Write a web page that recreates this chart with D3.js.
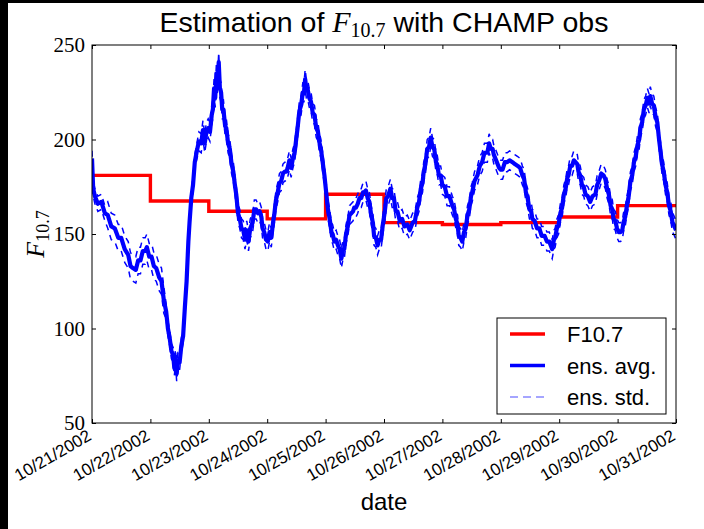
<!DOCTYPE html>
<html lang="en">
<head>
<meta charset="UTF-8">
<title>Estimation of F10.7 with CHAMP obs</title>
<style>
    body { margin: 0; background: #000; }
    svg { display: block; }
    .tick-label { font-family: "Liberation Serif", serif; font-size: 21px; fill: #000; }
    .date-label { font-family: "Liberation Sans", Arial, sans-serif; font-size: 17px; fill: #000; }
    .sans { font-family: "Liberation Sans", Arial, sans-serif; }
    .serif { font-family: "Liberation Serif", serif; }
</style>
</head>
<body>
<svg width="704" height="529"></svg>
<script src="https://d3js.org/d3.v7.min.js"></script>
<script>
// F10.7 daily values (one per day, starting 10/21/2002)
const f107Days = [0, 1, 2, 3, 4, 5, 6, 7, 8, 9, 10];
const f107Vals = [181, 167.5, 162, 158, 171, 156, 155, 156, 159, 165, 165];

// ensemble average, time in days since 10/21/2002 00:00
const avgDays = [
    0.00, 0.02, 0.05, 0.10, 0.16, 0.22, 0.27, 0.33, 0.39, 0.45, 0.50, 0.56, 0.62, 0.66, 0.70, 0.75, 0.79, 0.83, 0.87, 0.91, 0.94, 0.98,
    1.02, 1.06, 1.10, 1.15, 1.19, 1.23, 1.27, 1.30, 1.33, 1.36, 1.39, 1.41, 1.43, 1.45, 1.47, 1.50, 1.53, 1.56, 1.59, 1.62, 1.65, 1.67, 1.70, 1.73, 1.76, 1.79, 1.83, 1.87, 1.90, 1.93, 1.96, 1.99,
    2.02, 2.05, 2.07, 2.09, 2.11, 2.13, 2.15, 2.17, 2.19, 2.21, 2.23, 2.25, 2.28, 2.30, 2.33, 2.36, 2.39, 2.42, 2.45, 2.47, 2.50, 2.53, 2.56, 2.59, 2.62, 2.65, 2.68, 2.71, 2.75, 2.78, 2.81, 2.84, 2.87, 2.90, 2.92, 2.95, 2.98,
    3.01, 3.04, 3.07, 3.10, 3.12, 3.15, 3.18, 3.21, 3.24, 3.27, 3.30, 3.33, 3.35, 3.38, 3.41, 3.44, 3.47, 3.50, 3.52, 3.55, 3.58, 3.61, 3.63, 3.65, 3.67, 3.69, 3.72, 3.75, 3.78, 3.81, 3.84, 3.87, 3.89, 3.92, 3.95, 3.98,
    4.01, 4.04, 4.07, 4.10, 4.12, 4.15, 4.18, 4.21, 4.24, 4.27, 4.30, 4.32, 4.35, 4.38, 4.41, 4.44, 4.47, 4.49, 4.52, 4.55, 4.58, 4.61, 4.64, 4.66, 4.69, 4.72, 4.75, 4.78, 4.81, 4.83, 4.86, 4.89, 4.92, 4.95, 4.98,
    5.01, 5.04, 5.07, 5.11, 5.14, 5.17, 5.20, 5.23, 5.27, 5.31, 5.35, 5.40, 5.44, 5.49, 5.53, 5.57, 5.60, 5.63, 5.66, 5.68, 5.71, 5.74, 5.77, 5.80, 5.83, 5.86, 5.89, 5.91, 5.94, 5.97,
    6.00, 6.04, 6.08, 6.12, 6.17, 6.20, 6.23, 6.26, 6.28, 6.31, 6.34, 6.37, 6.40, 6.43, 6.46, 6.49, 6.51, 6.55, 6.60, 6.64, 6.68, 6.72, 6.77, 6.80, 6.83, 6.86, 6.88, 6.92, 6.97,
    7.00, 7.03, 7.07, 7.11, 7.15, 7.20, 7.24, 7.29, 7.33, 7.37, 7.40, 7.43, 7.46, 7.49, 7.52, 7.54, 7.58, 7.62, 7.66, 7.70, 7.75, 7.79, 7.83, 7.88, 7.91, 7.93, 7.96, 7.99,
    8.02, 8.05, 8.08, 8.11, 8.14, 8.16, 8.19, 8.22, 8.25, 8.28, 8.31, 8.33, 8.36, 8.39, 8.42, 8.45, 8.49, 8.53, 8.57, 8.62, 8.65, 8.68, 8.72, 8.76, 8.79, 8.82, 8.85, 8.88, 8.91, 8.93, 8.96, 8.99,
    9.02, 9.05, 9.08, 9.10, 9.13, 9.16, 9.19, 9.22, 9.25, 9.28, 9.31, 9.34, 9.37, 9.39, 9.42, 9.45, 9.48, 9.51, 9.54, 9.56, 9.59, 9.62, 9.65, 9.68, 9.71, 9.73, 9.76, 9.79, 9.82, 9.85, 9.88, 9.91, 9.94, 9.96, 10.00
];
const avgVals = [
    190, 174, 170, 166, 167, 161, 160, 154, 153, 148, 148, 142, 139, 133, 132, 131, 136, 136, 141, 141, 143, 138,
    138, 133, 132, 127, 125, 115, 109, 100, 95, 88, 86, 79, 85, 76, 83, 82, 91, 96, 111, 125, 146, 156, 169, 176, 188, 193, 199, 198, 205, 198, 204, 206,
    204, 213, 216, 227, 222, 235, 229, 241, 227, 225, 216, 216, 207, 206, 198, 195, 187, 183, 175, 171, 161, 158, 153, 152, 147, 152, 146, 153, 156, 163, 163, 161, 162, 159, 153, 151, 147,
    146, 151, 148, 156, 160, 168, 172, 177, 178, 182, 183, 183, 185, 189, 185, 190, 193, 201, 206, 215, 218, 225, 225, 232, 227, 227, 222, 220, 214, 213, 206, 204, 199, 195, 188, 181,
    172, 163, 158, 151, 150, 146, 147, 144, 142, 137, 142, 142, 150, 154, 160, 161, 162, 164, 164, 166, 169, 169, 172, 172, 173, 169, 167, 160, 156, 149, 148, 144, 147, 147, 155,
    161, 169, 170, 174, 169, 169, 162, 162, 157, 158, 154, 155, 152, 156, 157, 164, 167, 174, 177, 183, 187, 195, 196, 201, 196, 195, 188, 187, 181, 181,
    176, 175, 170, 170, 165, 163, 158, 155, 149, 148, 146, 151, 153, 160, 163, 170, 172, 178, 181, 186, 188, 193, 193, 198, 195, 195, 192, 189, 185,
    184, 184, 188, 188, 189, 188, 187, 186, 185, 181, 179, 172, 169, 163, 162, 158, 157, 153, 153, 149, 149, 146, 146, 142, 147, 148, 153, 155,
    161, 164, 171, 174, 180, 181, 186, 186, 189, 188, 187, 183, 181, 176, 175, 171, 170, 167, 170, 171, 176, 178, 182, 181, 179, 174, 171, 165, 163, 158, 157, 153,
    151, 151, 152, 156, 159, 165, 170, 178, 181, 188, 191, 197, 200, 206, 209, 216, 218, 222, 219, 223, 219, 218, 212, 209, 200, 195, 187, 183, 176, 172, 165, 162, 156, 155, 152
];

// ensemble spread, piecewise: value holds from its start day
const stdDays = [0, 0.25, 1.25, 1.8];
const stdVals = [4, 7, 4, 5];

const yTicks = [50, 100, 150, 200, 250];
const legendLabels = ["F10.7", "ens. avg.", "ens. std."];

const svg = d3.select("svg");
const W = +svg.attr("width"), H = +svg.attr("height");
const margin = {top: 45, right: 28, bottom: 106, left: 92};

svg.append("rect").attr("x", 8).attr("y", 3).attr("width", W - 8).attr("height", H - 3).attr("fill", "#fff");

const t0 = Date.UTC(2002, 9, 21);
const toDate = d => new Date(t0 + d * 864e5);

const x = d3.scaleUtc()
    .domain([toDate(0), toDate(10)])
    .range([margin.left, W - margin.right]);
const y = d3.scaleLinear()
    .domain([50, 250])
    .range([H - margin.bottom, margin.top]);

svg.append("clipPath").attr("id", "plot-clip")
    .append("rect")
    .attr("x", margin.left).attr("y", margin.top)
    .attr("width", x.range()[1] - margin.left)
    .attr("height", y.range()[0] - margin.top);

const plot = svg.append("g").attr("clip-path", "url(#plot-clip)");

// F10.7 step line
const f107 = f107Days.map((d, i) => ({t: toDate(d), v: f107Vals[i]}));
plot.append("path")
    .datum(f107)
    .attr("fill", "none")
    .attr("stroke", "#ff0000")
    .attr("stroke-width", 3.4)
    .attr("d", d3.line().x(d => x(d.t)).y(d => y(d.v)).curve(d3.curveStepAfter));

// ensemble
const stdAt = d => stdVals[d3.bisectRight(stdDays, d) - 1];
const ens = avgDays.map((d, i) => ({t: toDate(d), v: avgVals[i], s: stdAt(d)}));

const lineOf = f => d3.line().x(d => x(d.t)).y(d => y(f(d)));

[d => d.v + d.s, d => d.v - d.s].forEach(f => {
    plot.append("path")
        .datum(ens)
        .attr("fill", "none")
        .attr("stroke", "#0000ff")
        .attr("stroke-width", 1.5)
        .attr("stroke-dasharray", "6,5")
        .attr("d", lineOf(f));
});

plot.append("path")
    .datum(ens)
    .attr("fill", "none")
    .attr("stroke", "#0000ff")
    .attr("stroke-width", 4.2)
    .attr("stroke-linejoin", "round")
    .attr("d", lineOf(d => d.v));

// axes: frame with inward ticks on all four sides
const dayTicks = d3.utcDay.range(toDate(0), toDate(10.001));
const fmt = d3.utcFormat("%m/%d/%Y");

const xBottom = svg.append("g")
    .attr("transform", `translate(0,${y.range()[0]})`)
    .call(d3.axisBottom(x).tickValues(dayTicks).tickSize(-4).tickFormat(fmt).tickSizeOuter(0));
xBottom.selectAll("text")
    .attr("class", "date-label")
    .attr("text-anchor", "end")
    .attr("x", null).attr("y", null).attr("dy", null)
    .attr("transform", "translate(0,16) rotate(-30)");

svg.append("g")
    .attr("transform", `translate(0,${margin.top})`)
    .call(d3.axisTop(x).tickValues(dayTicks).tickSize(-4).tickFormat("").tickSizeOuter(0));

const yLeft = svg.append("g")
    .attr("transform", `translate(${margin.left},0)`)
    .call(d3.axisLeft(y).tickValues(yTicks).tickSize(-4).tickPadding(7).tickSizeOuter(0));
yLeft.selectAll("text").attr("class", "tick-label");

svg.append("g")
    .attr("transform", `translate(${x.range()[1]},0)`)
    .call(d3.axisRight(y).tickValues(yTicks).tickSize(-4).tickFormat("").tickSizeOuter(0));

svg.selectAll(".domain").remove();
svg.selectAll(".tick line").attr("stroke", "#000");

svg.append("rect")
    .attr("x", margin.left).attr("y", margin.top)
    .attr("width", x.range()[1] - margin.left)
    .attr("height", y.range()[0] - margin.top)
    .attr("fill", "none")
    .attr("stroke", "#000")
    .attr("stroke-width", 1);

// title
const title = svg.append("text")
    .attr("x", (margin.left + x.range()[1]) / 2)
    .attr("y", 32)
    .attr("text-anchor", "middle")
    .attr("fill", "#000");
title.append("tspan").attr("class", "sans").attr("font-size", 28.5).text("Estimation of ");
title.append("tspan").attr("class", "serif").attr("font-style", "italic").attr("font-size", 30).text("F");
title.append("tspan").attr("class", "serif").attr("font-size", 20).attr("dy", 5).text("10.7");
title.append("tspan").attr("class", "sans").attr("font-size", 28.5).attr("dy", -5).text(" with CHAMP obs");

// y label
const ylab = svg.append("text")
    .attr("transform", `translate(44,${(margin.top + y.range()[0]) / 2}) rotate(-90)`)
    .attr("text-anchor", "middle")
    .attr("fill", "#000");
ylab.append("tspan").attr("class", "serif").attr("font-style", "italic").attr("font-size", 26).text("F");
ylab.append("tspan").attr("class", "serif").attr("font-size", 18).attr("dy", 5).text("10.7");

// x label
svg.append("text")
    .attr("class", "sans")
    .attr("x", (margin.left + x.range()[1]) / 2)
    .attr("y", 510)
    .attr("text-anchor", "middle")
    .attr("font-size", 24)
    .attr("fill", "#000")
    .text("date");

// legend
const lg = svg.append("g").attr("transform", "translate(497,318)");
lg.append("rect")
    .attr("width", 169).attr("height", 96)
    .attr("fill", "#fff").attr("stroke", "#000").attr("stroke-width", 1);
const legendStyles = [
    {color: "#ff0000", width: 3.4, dash: null},
    {color: "#0000ff", width: 3.4, dash: null},
    {color: "#4d4dff", width: 1.2, dash: "8,5"}
];
legendLabels.forEach((label, i) => {
    const yy = 16 + i * 31.5;
    const st = legendStyles[i];
    lg.append("line")
        .attr("x1", 13).attr("x2", 48).attr("y1", yy).attr("y2", yy)
        .attr("stroke", st.color).attr("stroke-width", st.width)
        .attr("stroke-dasharray", st.dash);
    lg.append("text")
        .attr("class", "sans")
        .attr("x", 70).attr("y", yy + 8)
        .attr("font-size", 22)
        .attr("fill", "#000")
        .text(label);
});
</script>
</body>
</html>
